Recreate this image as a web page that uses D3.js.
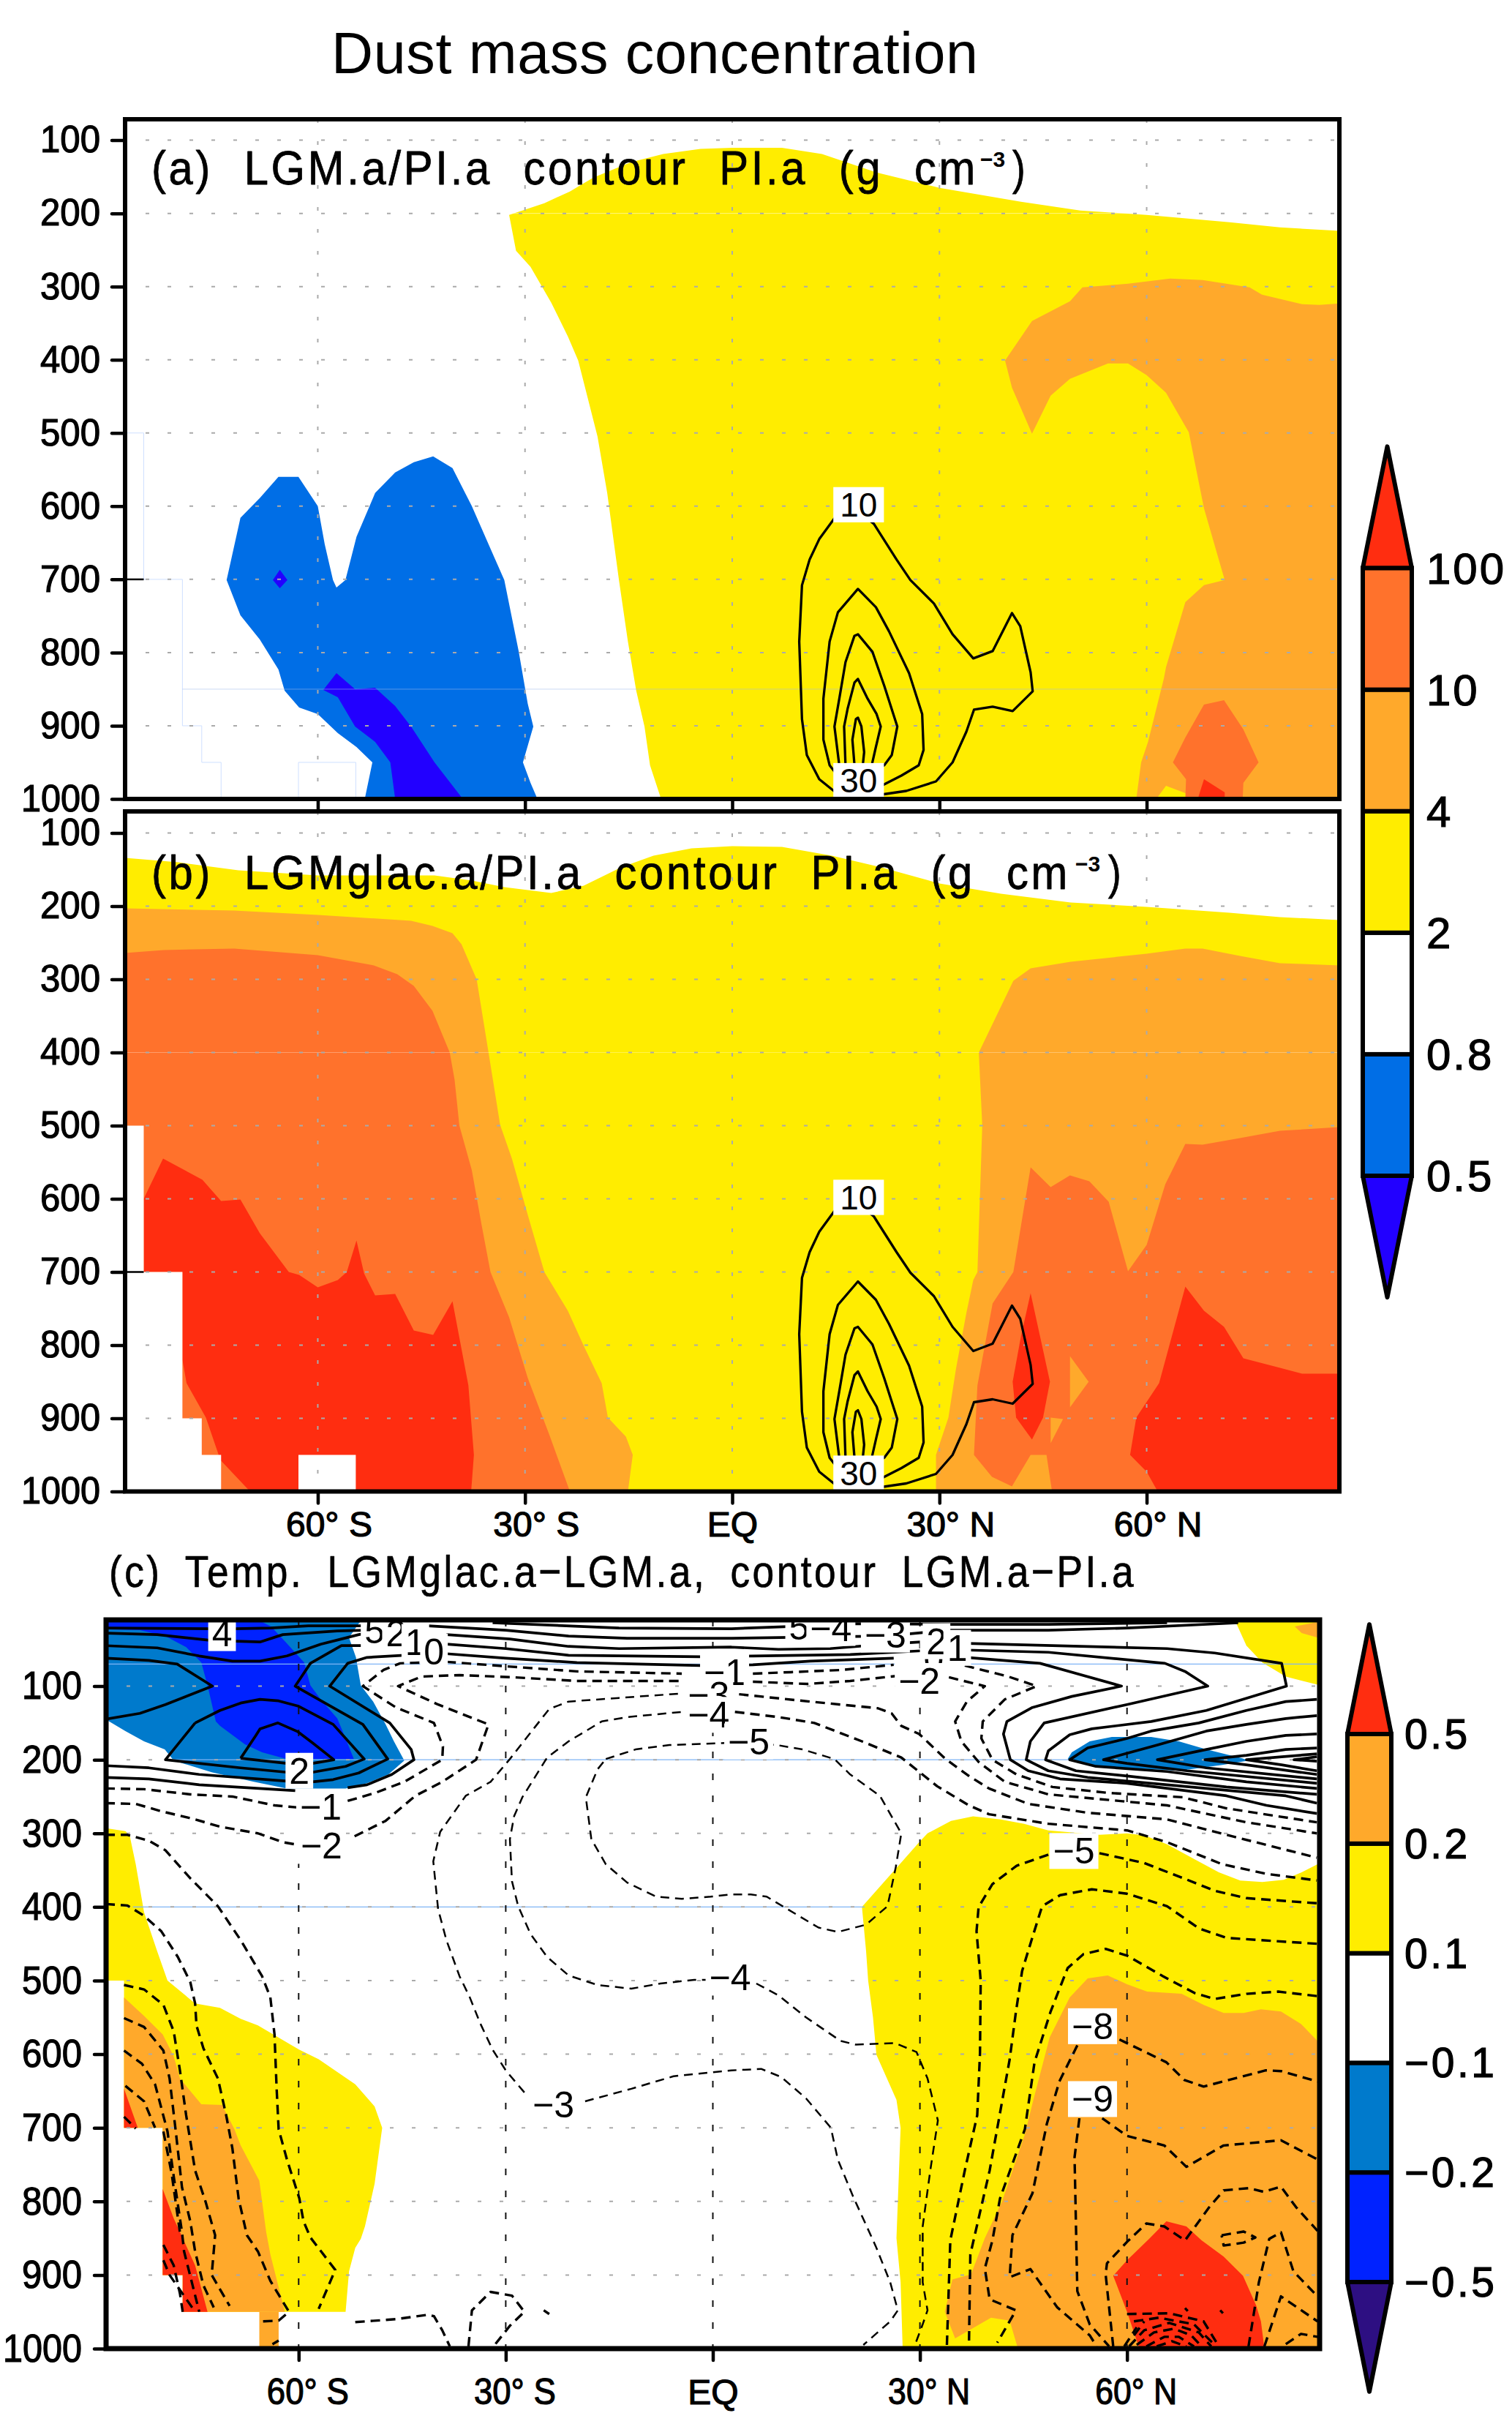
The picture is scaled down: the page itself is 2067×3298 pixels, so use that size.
<!DOCTYPE html>
<html><head><meta charset="utf-8"><title>Dust mass concentration</title>
<script src="https://cdnjs.cloudflare.com/ajax/libs/d3/7.8.5/d3.min.js"></script>
<style>html,body{margin:0;padding:0;background:#fff}svg{display:block}</style></head><body>
<script>
// ---------- shared axis data ----------
const pressureTicks=[100,200,300,400,500,600,700,800,900,1000];
const latTicks=[-60,-30,0,30,60];
const latLabels=["60° S","30° S","EQ","30° N","60° N"];
const gridPressures=[100,200,300,400,500,600,700,800,900];
// ---------- panel (a) fills: [lat, hPa] ----------
const aYellow=[[-32.3,202],[-27.2,186],[-23.5,170],[-20.1,151],[-14.7,130],[-10,119],[-4.6,112],[0,110.5],[7.2,110.5],[13,119],[20.9,144],[30,165],[41.8,184],[50.4,196],[60,202],[72,212],[79.3,219],[88,224],[88,1000],[-10.3,1000],[-11.9,954],[-12.7,901],[-13.9,852],[-15.1,785],[-16.4,701],[-18.1,582],[-19.5,505],[-22.3,401],[-23.8,368],[-26.2,322],[-29.2,273],[-31.3,251]];
const aOrange=[[39.5,401],[43.4,347],[48.9,320],[50.7,301],[57.3,296],[63.4,289],[68.1,291],[74.9,301],[76.7,311],[82.5,324],[85,325],[88,323],[88,1000],[58.5,1000],[59.2,950],[60.2,922],[62.5,835],[62.8,820],[65.6,731],[68.3,708],[71.3,701],[68.3,603],[66.1,499],[62.8,445],[60,421],[57.3,405],[54.4,405],[48.9,426],[46.1,449],[43.4,501],[40.5,438]];
const aYellowBit=[[61.4,1000],[62.8,982],[65.6,992],[67.4,1000]];
const aDarkOrange=[[63.8,950],[65.6,916],[68.3,871],[71.2,865],[74,905],[76.2,950],[74,978],[73.9,1000],[65.6,1000],[65.7,973]];
const aRed=[[67.4,1000],[68.3,973],[71.3,991],[71.3,1000]];
const aBlue=[[-65.7,560],[-62.8,560],[-60,600],[-59,652],[-57.8,701],[-57.3,711],[-56,701],[-54.4,642],[-51.7,582],[-48.8,554],[-46.1,540],[-43.3,532],[-40.5,548],[-37.7,600],[-33,701],[-30.9,799],[-29.6,870],[-28.8,901],[-30.3,950],[-29.2,978],[-28.2,1000],[-53.2,1000],[-52.1,950],[-54.4,929],[-57.1,910],[-60,884],[-62.7,875],[-64.8,852],[-65.7,823],[-68.4,782],[-71.2,749],[-73.2,701],[-71.2,616],[-68.4,589]];
const aDeepDot=[[-65.5,687],[-64.4,701],[-65.5,712],[-66.5,701]];
const aDeep=[[-59.2,851],[-57.3,828],[-54.6,850],[-51.7,848],[-48.8,873],[-46.5,901],[-43.1,950],[-39,1000],[-48.8,1000],[-49.5,950],[-51.7,922],[-54.6,901],[-57.1,861]];
const maskSteps=[[-88,500],[-85.2,500],[-85.2,700],[-79.6,700],[-79.6,900],[-76.8,900],[-76.8,950],[-74,950],[-74,1000],[-88,1000]];
const maskBox=[[-62.8,1000],[-62.8,950],[-54.5,950],[-54.5,1000]];
// ---------- panel (b) fills ----------
const bYellow=[[-88,134],[-80.2,140],[-71.5,151],[-60,158],[-43.1,158],[-37.7,165],[-33,174],[-26.2,182],[-21.5,172],[-16.1,147],[-11.4,131],[-5.9,121],[0,118],[7.2,119],[14.4,131],[21.6,147],[30,169],[38.9,183],[49,195],[60,201],[72,209],[79.3,215],[88,219],[88,1000],[-88,1000]];
const bOrangeL=[[-88,203],[-72.1,206],[-60,212],[-46.5,220],[-43.4,227],[-40.5,237],[-39.2,252],[-37,300],[-35.3,399],[-33.6,499],[-31.9,545],[-29.6,622],[-27.2,700],[-23.8,753],[-21.5,801],[-18.9,852],[-18,899],[-15.4,925],[-14.4,950],[-15.1,1000],[-88,1000]];
const bDarkL=[[-88,264],[-82.3,260],[-72.1,258],[-60,267],[-51.9,281],[-48.5,293],[-46.1,309],[-43.4,343],[-40.9,400],[-40.2,437],[-39.5,500],[-37.7,561],[-36.3,635],[-35,700],[-32.3,762],[-29.6,845],[-26.5,922],[-23.5,1000],[-88,1000]];
const bRedL=[[-85.2,600],[-82.4,545],[-76.7,574],[-74,603],[-71.2,601],[-68.4,647],[-64.2,700],[-62.7,704],[-60,721],[-57.1,711],[-55.8,700],[-54.4,657],[-53.3,702],[-51.7,732],[-48.8,730],[-46.1,780],[-43.3,786],[-40.5,740],[-38.2,855],[-37.4,950],[-37.8,1000],[-69.8,1000],[-71.1,987],[-74.1,957],[-76.2,899],[-79,852],[-79.6,820],[-79.6,700],[-85.2,700]];
const bOrangeR=[[35.7,400],[40.7,302],[43.2,285],[49,276],[60,265],[65.6,258],[68.1,258],[73.5,268],[79.3,278],[82.5,279],[88,281],[88,1000],[29.5,1000],[29.5,950],[31.3,899],[32.4,832],[33.9,756],[34.9,711],[35.5,700],[36.2,500]];
const bDarkR=[[40.7,700],[43.2,557],[46.1,584],[48.9,568],[51.7,576],[54.5,604],[57.3,699],[60,663],[62.7,580],[65.6,525],[68.1,526],[73.5,517],[79.3,507],[88,502],[88,1000],[46.3,1000],[45.5,950],[43.2,950],[40.5,993],[37.6,980],[35,950],[35.5,855],[37.7,743]];
const bOrangeDiamond=[[48.9,815],[51.6,850],[48.9,885]];
const bOrangeTri=[[46.1,899],[47.9,901],[46.1,934]];
const bRedSmall=[[43.2,729],[46,850],[45,899],[43.4,929],[41.1,899],[40.6,850],[41.8,788]];
const bRedBig=[[65.6,720],[68.3,753],[71.2,775],[74,818],[79.3,831],[82.5,839],[88,839],[88,1000],[61.6,1000],[60,973],[57.6,950],[58.5,899],[61.8,852]];
// ---------- contours shared by (a) and (b) ----------
const dust10=[[15,614],[12.6,645],[11.2,673],[10.1,708],[9.7,785],[10.1,891],[10.8,940],[12.6,973],[15.1,992],[21.6,994],[25.2,989],[29.5,976],[31.9,950],[33.9,908],[35,878],[37.7,874],[40.6,880],[43.5,853],[43.2,827],[41.7,764],[40.5,746],[37.7,798],[34.9,808],[31.9,775],[29.2,733],[25.8,701],[23.8,673],[20.5,624],[17.3,600],[15,614]];
const dust15=[[21.6,982],[24.5,968],[27,954],[27.7,933],[27.5,884],[25.6,828],[22.7,771],[20.8,738],[18.2,713],[15.3,745],[14.1,785],[13.2,863],[13.2,919],[14.1,954],[15.5,971]];
const dust20=[[20.2,961],[22,954],[23.1,940],[23.9,901],[22,845],[20.3,799],[18.2,775],[17.7,777],[16.4,813],[15.5,863],[14.8,901],[15.5,954]];
const dust25=[[20.2,954],[20.8,929],[21.5,901],[20.9,884],[19.6,863],[18.2,836],[17.7,841],[16.7,877],[16.2,901],[16.4,954]];
const dust30=[[18.9,954],[19.1,936],[18.7,901],[18.2,889],[17.9,891],[17.4,919],[17.7,954]];
const dustContours=[dust10,dust15,dust20,dust25,dust30];
const dustLabels=[["10",18.3,598],["30",18.3,975]];
// ---------- panel (c) fills ----------
const cBlueS=[[-88,10],[-88,145],[-85.1,161],[-82.4,175],[-79.4,186],[-78.1,201],[-72.6,217],[-66.5,230],[-61.7,239],[-53.2,239],[-50.1,232],[-47,220],[-44.7,201],[-46.2,175],[-47.4,152],[-49.2,121],[-51,99],[-51.7,61],[-52.7,34],[-51.3,15],[-50.8,10]];
const cDeepS=[[-88,10],[-88,23],[-83,24],[-79.3,32],[-76.3,47],[-74.1,68],[-73.2,99],[-72,148],[-71.4,154],[-67.8,179],[-65.3,190],[-61.7,199],[-52,199],[-53.2,171],[-54.4,144],[-56.8,118],[-58.3,99],[-59.2,68],[-61.7,42],[-64,19],[-65.9,10]];
const cBlueN=[[51.4,199],[52,190],[54.6,175],[57.8,169],[63.5,169],[67.5,175],[71.5,186],[76.7,198],[77.6,201],[73.8,207],[67.5,215],[60,211],[54.3,207]];
const cYellowCorner=[[75.6,10],[77.3,45],[79.6,68],[83,87],[88,99],[88,10]];
const cOrangeCorner=[[84.3,19],[88,12],[88,35],[85.3,28]];
const cYellowS=[[-88,293],[-85.1,297],[-84.5,302],[-83.6,342],[-82.4,407],[-80.5,460],[-79,500],[-75,531],[-71.4,537],[-68.4,552],[-65.9,561],[-59.9,594],[-57.1,607],[-51.8,641],[-49,671],[-47.9,700],[-49,776],[-50.4,834],[-51,851],[-51.8,863],[-52.7,895],[-53.2,950],[-76.8,950],[-76.8,900],[-79.7,900],[-79.7,700],[-85.3,700],[-85.3,500],[-88,500]];
const cOrangeS=[[-85.3,523],[-82.4,548],[-79.7,573],[-78.1,603],[-77.2,633],[-74.1,668],[-71.1,669],[-69.3,702],[-68.4,724],[-65.7,772],[-64.7,842],[-64.1,872],[-62,950],[-76.8,950],[-76.8,900],[-79.7,900],[-79.7,700],[-85.3,700]];
const cOrangeBox=[[-65.7,950],[-62.9,950],[-62.9,1000],[-65.7,1000]];
const cRedS1=[[-85.3,647],[-83.3,700],[-85.3,700]];
const cRedS2=[[-79.7,783],[-78.1,823],[-75,887],[-73.2,950],[-76.8,950],[-76.8,900],[-79.7,900]];
const cYellowN=[[21.6,400],[29.9,312],[31.1,300],[34.5,283],[37.7,277],[41.7,281],[45.1,287],[48.6,296],[56,302],[60,300],[62.6,303],[65.8,315],[73.3,353],[76.4,364],[79.6,366],[82.7,363],[85.3,353],[88,340],[88,1000],[27.5,1000],[27.2,910],[26.6,850],[27.2,700],[26.6,662],[23.7,601],[23.2,550],[22.5,500],[22.2,460]];
const cOrangeN=[[34.7,906],[37.4,899],[39.4,850],[41.9,800],[45.2,709],[46.3,667],[48.8,577],[51.7,523],[54.3,497],[57.2,493],[60,505],[62.9,515],[67.9,518],[71.1,533],[74,544],[76.9,544],[79.4,539],[82.3,542],[85.2,559],[88,586],[88,1000],[44.2,1000],[43,962],[40.3,958],[35.1,986],[33.6,950]];
const cRedN=[[65.7,827],[68.6,834],[70.8,853],[74,875],[76.8,901],[78.7,941],[79.4,963],[79.9,1000],[61.8,1000],[60,950],[58,901],[60,880],[63.2,851]];
// ---------- panel (c) solid contours ----------
const solS=[
[[-88,21],[-72.6,22],[-69.3,22],[-64.1,21],[-58.6,18],[-50.4,18]],
[[-88,28],[-80.5,30],[-72.6,38],[-65.6,40],[-62.3,30],[-54.4,25],[-50.4,24]],
[[-88,45],[-80.5,48],[-74.4,59],[-69.6,66],[-65.6,66],[-61.7,59],[-56.8,43],[-53.8,36],[-51.3,30],[-47.4,24]],
[[-88,62],[-81.7,65],[-77.6,70],[-72.5,100],[-79.3,125],[-83,137],[-88,145]],
[[-44.7,58],[-50.1,61],[-52.9,69],[-55.5,100],[-46.8,150],[-43.7,186],[-43.3,200],[-46.5,220],[-50.1,234],[-52.9,238]],
[[-47.4,45],[-53.8,45],[-58.3,69],[-60.5,100],[-50.7,152],[-47.1,199],[-51.3,218],[-55,227],[-58,230],[-61.7,229],[-74.4,220],[-81.7,211],[-88,208]],
[[-75,150],[-71.4,133],[-68.4,123],[-65.6,118],[-62.9,120],[-60.1,127],[-55,152],[-50.5,199],[-53.2,209],[-58,217],[-61.7,217],[-68.4,211],[-79.3,200],[-75,150]],
[[-68.4,198],[-66.2,167],[-65.6,158],[-63,150],[-60.1,162],[-58,177],[-54.9,200],[-58,205],[-61.7,205],[-68.4,198]],
[[-88,224],[-81.7,226],[-74.4,234],[-60.5,242]]];
const solTop=[
[[-31.9,14],[-13.6,21],[2.7,22],[11,19],[19.9,15],[34.2,16],[48.6,16],[65.8,14]],
[[-41.3,18],[-30,24],[-20.9,32],[-12.4,35],[2.7,35],[16.7,33],[25,32],[34,24],[48.6,24],[60,21],[76.1,14]],
[[-38.6,30],[-29.4,36],[-20.9,46],[-13.6,49],[2.7,47],[9.5,50],[17,49],[25,43],[30.2,40]],
[[-38.6,43],[-30,49],[-20.9,58],[-1.8,60],[5.8,59],[19.9,57],[30.2,52]],
[[-38.6,56],[-30,62],[-19.7,68],[-1.8,72],[5.8,71],[14.1,66],[26.2,62]]];
const solN=[
[[36.8,61],[47.4,69],[59.2,100],[52,114],[46.3,129],[42.6,148],[42.1,165],[43.1,200],[45.7,215],[50.3,226],[60,232],[74.4,249],[80.2,262],[87.5,273]],
[[36.8,51],[48.6,54],[65.5,69],[68.4,80],[71.7,100],[60,125],[48,150],[46,175],[45.4,200],[48.6,215],[54.3,224],[65.8,234],[83,249],[87.5,259]],
[[36.8,42],[65.8,49],[72.7,55],[82.4,69],[83.1,100],[71.5,133],[63.5,148],[54.9,158],[51.7,166],[48.6,188],[48.2,200],[52.6,215],[60,222],[74.4,237],[87.5,247]],
[[87.5,118],[83,121],[77.3,133],[70.4,150],[63.5,161],[60,171],[54.3,184],[51.7,200],[55.5,209],[65.8,216],[77.3,230],[87.5,239]],
[[87.5,140],[83,144],[77.3,152],[71.5,161],[64.4,180],[56.6,200],[60,205],[68.7,215],[87.5,232]],
[[87.5,165],[83,167],[77.3,175],[71.5,186],[64.4,200],[71.5,211],[87.5,226]],
[[87.5,184],[83,186],[77.3,194],[71.3,200],[77.3,207],[87.5,220]],
[[87.5,192],[82.4,196],[77.3,200],[82.4,207],[87.5,215]],
[[87.5,196],[84.2,200],[87.5,202]]];
// ---------- panel (c) dashed contours ----------
const dashThick=[
[[-88,239],[-82.4,240],[-75.7,247],[-69.6,250],[-63.5,262],[-59.9,265]],
[[-52.9,256],[-48.9,245],[-44.7,230],[-39.2,200],[-39.1,182],[-40.4,150],[-45.9,129],[-50.7,100],[-47.7,78],[-45.3,69],[-42.2,68]],
[[-38.6,67],[-30,73],[-19.7,80],[-4.5,83]],
[[5.8,83],[11.3,81],[18.7,78],[26.2,71]],
[[36.5,72],[42.8,87],[46.9,100],[42.3,118],[39.1,148],[38.9,171],[40.5,200],[44,220],[49.2,237],[57.2,245],[68.1,251],[74.4,266],[87.5,285]],
[[-88,259],[-83.6,260],[-79.9,270],[-75,281],[-71.4,291],[-65.9,300],[-62.3,312],[-60.5,315]],
[[-51.9,304],[-47.4,283],[-43.1,249],[-39.2,230],[-34.3,200],[-32.5,152],[-39.8,125],[-45.6,100],[-42.2,87],[-36.7,85],[-28.8,88],[-19.7,93],[-4.5,93]],
[[5.8,94],[13.6,97],[19.9,93],[26.8,86]],
[[34.2,88],[39.4,100],[36.8,121],[35.1,148],[36,175],[38.5,203],[42.3,230],[48.6,247],[65.8,262],[77.3,285],[87.5,300]]];
const dashS=[
[[-88,302],[-84.8,302],[-81.7,310],[-79.3,323],[-75.7,361],[-71.7,399],[-68.4,445],[-65.3,494],[-64.1,523],[-63.5,573],[-63.2,645],[-62.9,702],[-61.7,743],[-59.9,796],[-59.3,827],[-58.3,849],[-54.7,893],[-57.1,946]],
[[-88,396],[-84.8,398],[-82.4,412],[-79.9,433],[-77.5,468],[-75.7,502],[-75,531],[-74.8,561],[-73.8,592],[-71.7,633],[-70.5,683],[-69.6,728],[-68.7,796],[-67.5,846],[-65.9,868],[-64.1,908],[-61.4,950],[-62.9,962],[-65.3,963]],
[[-85.3,506],[-82.4,512],[-79.6,533],[-78.1,569],[-77.2,622],[-76.3,683],[-75,758],[-73.5,800],[-72.1,846],[-72.6,900],[-70,942]],
[[-85.3,551],[-82.4,563],[-79.6,595],[-78.7,633],[-77.8,705],[-76.9,781],[-75.7,827],[-75,868],[-73.8,914],[-72.3,944]],
[[-85.3,595],[-82.7,613],[-80.8,641],[-79,705],[-78.1,766],[-76.9,842],[-76.6,868],[-74.4,950]],
[[-85.1,643],[-82.4,664],[-80.8,700]],
[[-79.6,705],[-78.4,762],[-77.2,842]],
[[-85.3,685],[-83.6,701]],
[[-79.6,859],[-78.1,887],[-77.2,925],[-76.8,950]],
[[-79.6,880],[-78.7,900],[-75,950]],
[[-51.8,964],[-45.9,960],[-41.3,954],[-40.4,956],[-39.2,975],[-38.1,997]],
[[-35.4,997],[-34.9,948],[-32.2,923],[-29.1,928],[-27.3,950],[-29.4,969],[-31.6,995]],
[[-24.5,948],[-23.7,953]],
[[-63.8,994],[-62.9,989]]];
const dashCentre=[
[[-27.3,652],[-30,622],[-31.9,594],[-33.7,558],[-35.2,523],[-36.7,494],[-38.6,445],[-39.8,403],[-40.5,338],[-39.5,298],[-35.8,249],[-32.2,230],[-29.4,199],[-25.8,156],[-23.7,131],[-20.9,121],[-13.6,116],[-4.5,110]],
[[-0.3,499],[-2.7,499],[-7.6,504],[-11.8,511],[-16.7,506],[-20.9,493],[-24,468],[-26.4,437],[-28.2,399],[-29.1,365],[-29.4,308],[-28.8,277],[-27.6,251],[-24,197],[-20.9,175],[-16.1,148],[-12.4,142],[-4.5,135]],
[[-15.5,199],[-11.2,186],[-6.3,180],[2.7,177],[9.3,180],[13,186],[17.6,199],[19.9,220],[24.2,249],[27.3,300],[26.5,346],[25.3,399],[22.2,424],[18.1,434],[15.3,428],[7.8,386],[5.5,383],[2.7,383],[-0.3,386],[-4.5,389],[-8.2,386],[-12.4,367],[-15.5,342],[-17.6,308],[-18.4,251],[-16.7,213],[-15.5,199]],
[[-18.5,664],[-11.8,647],[-5.7,630],[2.7,622],[7,620],[9.9,631],[13.5,660],[17.1,700],[18.1,743],[20.3,793],[23.6,861],[25.7,910],[26.8,948],[25.7,963],[21.8,995]],
[[6.3,504],[9.5,520],[13.5,550],[18.5,582],[20.7,587],[26.4,585],[29.5,597],[31.1,633],[32.6,690],[31.5,758],[30.4,834],[30.4,910],[31.1,948],[30.4,967],[29.2,997]]];
const dashN=[
[[3.8,111],[14.1,121],[23.9,130],[25.9,137],[27.3,154],[29.9,165],[33.7,199],[37.1,222],[40,239],[45.7,260],[54.3,272],[65.8,281],[74.4,302],[87.5,333]],
[[3.2,135],[9.5,142],[14.7,150],[21.6,175],[27.3,197],[32.5,236],[37.1,262],[40,274],[48.6,287],[60,296],[65.8,312],[73.8,342],[80.2,355],[87.5,364]],
[[48.6,329],[44,344],[40.5,369],[38.5,400],[38.2,433],[38.8,500],[38.7,599],[38.3,683],[36.5,758],[34.4,853],[33.9,997]],
[[56,327],[62.4,340],[68.7,363],[72.7,378],[77.3,388],[87.5,395]],
[[87.5,450],[74.4,442],[70.4,429],[65.8,399],[60,382],[54.9,376],[50.3,384],[47.7,399],[46.3,441],[44.8,487],[43.9,543],[43,607],[40.1,758],[37.3,872],[37.1,997]],
[[87.5,521],[81.9,515],[77.3,518],[72.7,525],[69.8,517],[65.2,494],[60,466],[56.9,457],[53.7,464],[51.4,483],[50.3,509],[48.9,543],[46.6,611],[45.2,702],[41.6,796],[40.5,853],[39.4,891],[40.1,933],[43.9,948],[41.2,992]],
[[52.8,588],[50.2,637],[48.4,694],[46.3,789],[43.4,846],[43,903],[46,892],[49.9,944],[54.6,982],[55.6,997]],
[[58.9,580],[65.7,611],[68.3,635],[71.1,644],[80.1,622],[82.3,623],[87.6,637]],
[[53.1,687],[52.4,740],[52.8,922],[54.6,967],[57.4,997]],
[[56.4,687],[60,711],[65.4,724],[68.6,753],[74,724],[82.3,717],[87.6,743]],
[[58,997],[56.9,899],[57.1,884],[60,855],[62.8,830],[65.4,834],[68.4,853],[71.9,808],[74,785],[77.6,782],[79.8,787],[82.3,780],[84.5,808],[87.6,840]],
[[77.6,997],[79.1,910],[80.6,851],[82.3,842],[84.1,895],[87.6,929]],
[[79.9,997],[82.3,929],[87.6,963]],
[[83,994],[85.2,980],[87.6,984]],
[[73.7,846],[76.9,841],[78.6,849],[76.9,856],[74,860],[73.7,846]],
[[60,953],[66.1,952],[71.1,963],[73.3,997]],
[[61,963],[64.6,958],[69.7,967],[72.9,997]],
[[60.3,997],[62.5,975],[66.1,965],[70.4,978],[72.2,997]],
[[61.4,995],[63.9,978],[66.8,973],[69.3,982],[70.8,997]],
[[62.8,997],[65.4,984],[67.5,984],[69.7,997]],
[[64.3,997],[66.5,990],[68.6,997]],
[[61,982],[62.5,963]],
[[59.6,997],[61.4,971]],
[[73.5,948],[73.9,952]],
[[68.4,945],[68.8,949]]];
const cLabels=[["4",-71.1,28],["5",-49,24],["2",-45.9,28],["1",-43.1,40],["0",-40.4,53],["2",-59.9,215],["−1",-56.8,264],["−2",-56.7,317],
["5",12.5,19],["−4",17.1,21],["−3",25,30],["0",32,62],["2",32.4,39],["1",35.4,48],["−1",1.7,81],["−3",-0.6,112],["−4",-0.6,139],["−2",29.9,93],["−5",5.2,175],
["−3",-23.1,669],["−4",2.5,496],["−5",52.3,324],["−8",55,562],["−9",55,661]];
// ---------- colour bars ----------
const cb1Labels=["0.5","0.8","2","4","10","100"];
const cb1Colors=["#2200FF","#006EE6","#FFFFFF","#FFED00","#FFA92B","#FF722C","#FF2D10"];
const cb2Labels=["−0.5","−0.2","−0.1","0.1","0.2","0.5"];
const cb2Colors=["#2D0F82","#0022FF","#007ACC","#FFFFFF","#FFED00","#FFA92B","#FF2D10"];
const YEL="#FFED00",ORA="#FFA92B",DOR="#FF722C",RED="#FF2D10",BLU="#006EE6",DEP="#2200FF",BL2="#007ACC",DP2="#0022FF";

const SANS="'Liberation Sans'";
const svg=d3.select("body").append("svg").attr("width",2067).attr("height",3298).attr("viewBox","0 0 2067 3298").style("font-family",SANS);
svg.append("text").attr("x",453).attr("y",100).attr("font-size",79).attr("textLength",884).attr("lengthAdjust","spacing").text("Dust mass concentration");

function makePanel(id,xr,yr,yTop){
  const x=d3.scaleLinear().domain([-87.9,87.9]).range(xr);
  const y=d3.scaleLinear().domain([yTop,1000]).range(yr);
  const line=d3.line().x(d=>x(d[0])).y(d=>y(d[1]));
  svg.append("clipPath").attr("id",id).append("rect").attr("x",xr[0]).attr("y",yr[0]).attr("width",xr[1]-xr[0]).attr("height",yr[1]-yr[0]);
  const g=svg.append("g").attr("clip-path",`url(#${id})`);
  return {x,y,line,g,xr,yr,
    fill:(pts,c)=>g.append("path").attr("d",line(pts)+"Z").attr("fill",c),
    stroke:(pts,c,w,dash)=>{const p=g.append("path").attr("d",line(pts)).attr("fill","none").attr("stroke",c).attr("stroke-width",w).attr("stroke-linejoin","round");if(dash)p.attr("stroke-dasharray",dash);return p;}
  };
}
function gridLines(P,hc,vc,vd,vw){
  gridPressures.forEach(p=>P.g.append("line").attr("x1",P.xr[0]).attr("x2",P.xr[1]).attr("y1",P.y(p)).attr("y2",P.y(p)).attr("stroke",hc).attr("stroke-width",2).attr("stroke-dasharray","5 25").attr("stroke-dashoffset",2));
  latTicks.forEach(l=>P.g.append("line").attr("x1",P.x(l)).attr("x2",P.x(l)).attr("y1",P.yr[0]).attr("y2",P.yr[1]).attr("stroke",vc).attr("stroke-width",vw).attr("stroke-dasharray",vd));
}
function contourLabel(P,t,lat,p,fs,padX,padY){
  const gg=P.g.append("g");
  const r=gg.append("rect").attr("fill","#fff");
  const tx=gg.append("text").attr("x",P.x(lat)).attr("y",P.y(p)+fs*0.35).attr("text-anchor","middle").attr("font-size",fs).text(t);
  const b=tx.node().getBBox();
  r.attr("x",b.x-padX).attr("y",P.y(p)-fs*0.35-padY).attr("width",b.width+2*padX).attr("height",fs*0.7+2*padY);
}
function frame(P,opt){
  const left=d3.axisLeft(P.y).tickValues(pressureTicks).tickSize(opt.tick).tickPadding(opt.pad).tickFormat(d3.format("d"));
  const bot=d3.axisBottom(P.x).tickValues(latTicks).tickSize(16).tickFormat((d,i)=>opt.labels?latLabels[i]:"");
  const al=svg.append("g").attr("transform",`translate(${P.xr[0]},0)`).call(left);
  const ab=svg.append("g").attr("transform",`translate(0,${P.yr[1]})`).call(bot);
  [al,ab].forEach(a=>{a.select(".domain").remove();a.selectAll("line").attr("stroke","#000").attr("stroke-width",4.5).attr("stroke-linecap","round");
    a.selectAll("text").attr("fill","#000").attr("font-family",SANS).attr("stroke","#000").attr("stroke-width",1.2);});
  al.selectAll("text").attr("font-size",opt.yfs).each(function(d){d3.select(this).attr("textLength",d>=1000?108:82).attr("lengthAdjust","spacingAndGlyphs");});
  ab.selectAll("text").attr("y",opt.base).attr("dy",0).attr("dx",d=>d===0?0:opt.dx).attr("font-size",d=>d===0?48:opt.xfs)
    .each(function(d){if(opt.xlen&&d!==0)d3.select(this).attr("textLength",opt.xlen).attr("lengthAdjust","spacingAndGlyphs");});
  svg.append("rect").attr("x",P.xr[0]).attr("y",P.yr[0]).attr("width",P.xr[1]-P.xr[0]).attr("height",P.yr[1]-P.yr[0]).attr("fill","none").attr("stroke","#000").attr("stroke-width",opt.fw);
}
function dustOverlay(P){
  dustContours.forEach(c=>P.stroke(c,"#000",3.3));
  dustLabels.forEach(l=>contourLabel(P,l[0],l[1],l[2],46,9,8));
}
function colorbar(labels,colors,xl,xr,y0,step,lx,fs,sw,ls){
  const iy=d3.scaleLinear().domain([0,labels.length-1]).range([y0,y0-step*(labels.length-1)]);
  const n=labels.length,xm=(xl+xr)/2;
  const g=svg.append("g");
  g.append("path").attr("d",`M${xl},${iy(0)}L${xm},${iy(-1)}L${xr},${iy(0)}Z`).attr("fill",colors[0]).attr("stroke","#000").attr("stroke-width",sw).attr("stroke-linejoin","round");
  g.append("path").attr("d",`M${xl},${iy(n-1)}L${xm},${iy(n)}L${xr},${iy(n-1)}Z`).attr("fill",colors[n]).attr("stroke","#000").attr("stroke-width",sw).attr("stroke-linejoin","round");
  g.selectAll("rect").data(d3.range(n-1)).join("rect").attr("x",xl).attr("width",xr-xl).attr("y",i=>iy(i+1)).attr("height",step).attr("fill",i=>colors[i+1]).attr("stroke","#000").attr("stroke-width",sw);
  g.selectAll("text").data(labels).join("text").attr("x",lx).attr("y",(d,i)=>iy(i)+fs*0.35).attr("font-size",fs).attr("letter-spacing",ls).attr("stroke","#000").attr("stroke-width",1.2).text(d=>d);
}
function fittedText(str,x1,x2,y,fs,sx,ls,sw){
  const t=svg.append("text").attr("transform",`translate(${x1},${y}) scale(${sx},1)`).attr("font-size",fs).attr("letter-spacing",ls).attr("stroke","#000").attr("stroke-width",sw).attr("stroke-linejoin","round").text(str);
  const nat=t.node().getComputedTextLength(),gaps=str.split(" ").length-1;
  t.attr("word-spacing",((x2-x1)/sx-nat)/gaps);
}
function panelTitle(x1,x2,y,main,supX,parenX){
  fittedText(main,x1,x2,y,65,0.92,4,0.8);
  svg.append("text").attr("x",supX).attr("y",y-24).attr("font-weight","bold").attr("font-size",30).text("−3");
  svg.append("text").attr("transform",`translate(${parenX},${y}) scale(0.82,1)`).attr("font-size",65).attr("stroke","#000").attr("stroke-width",0.8).text(")");
}
// ----- panel a -----
const A=makePanel("ca",[171,1831],[163,1092],71.4);
A.fill(aYellow,YEL);A.fill(aOrange,ORA);A.fill(aYellowBit,YEL);A.fill(aDarkOrange,DOR);A.fill(aRed,RED);A.fill(aBlue,BLU);A.fill(aDeepDot,DEP);A.fill(aDeep,DEP);
A.stroke(maskSteps.slice(0,-1),"#cfe0ff",1);A.stroke(maskBox,"#cfe0ff",1);
A.g.append("line").attr("x1",A.x(-79.6)).attr("x2",1831).attr("y1",A.y(850)).attr("y2",A.y(850)).attr("stroke","#9fb8e8").attr("stroke-opacity",.55).attr("stroke-width",1);
A.g.append("line").attr("x1",A.x(-32)).attr("x2",A.x(60)).attr("y1",A.y(200)).attr("y2",A.y(200)).attr("stroke","#fff").attr("stroke-opacity",.5).attr("stroke-width",1);
gridLines(A,"#aaaaaa","#aaaaaa","5 25",2);
dustOverlay(A);
A.g.append("line").attr("x1",171).attr("x2",A.x(-85.2)).attr("y1",A.y(700)).attr("y2",A.y(700)).attr("stroke","#000").attr("stroke-width",2.5);
frame(A,{tick:18,pad:16,yfs:51,labels:false,base:0,xfs:48,dx:0,xlen:0,fw:6});
panelTitle(207,1337,252,"(a) LGM.a/PI.a contour PI.a (g cm",1340,1384);
// ----- panel b -----
const B=makePanel("cb",[171,1831],[1109,2038.5],70.5);
B.fill(bYellow,YEL);B.fill(bOrangeL,ORA);B.fill(bOrangeR,ORA);B.fill(bDarkL,DOR);B.fill(bDarkR,DOR);B.fill(bOrangeDiamond,ORA);B.fill(bOrangeTri,ORA);B.fill(bRedL,RED);B.fill(bRedSmall,RED);B.fill(bRedBig,RED);
B.fill(maskSteps,"#fff");B.fill(maskBox,"#fff");
B.g.append("line").attr("x1",171).attr("x2",1831).attr("y1",B.y(400)).attr("y2",B.y(400)).attr("stroke","#fff").attr("stroke-opacity",.3).attr("stroke-width",1);
gridLines(B,"#aaaaaa","#aaaaaa","5 25",2);
dustOverlay(B);
B.g.append("line").attr("x1",171).attr("x2",B.x(-85.2)).attr("y1",B.y(700)).attr("y2",B.y(700)).attr("stroke","#000").attr("stroke-width",2.5);
frame(B,{tick:18,pad:16,yfs:51,labels:true,base:61.5,xfs:48,dx:15,xlen:0,fw:6});
panelTitle(207,1463,1215,"(b) LGMglac.a/PI.a contour PI.a (g cm",1470,1515);
// ----- panel c -----
const C=makePanel("cc",[145,1804],[2214,3210],10);
C.fill(cYellowCorner,YEL);C.fill(cOrangeCorner,ORA);C.fill(cBlueS,BL2);C.fill(cDeepS,DP2);C.fill(cBlueN,BL2);
C.fill(cYellowS,YEL);C.fill(cOrangeS,ORA);C.fill(cOrangeBox,ORA);C.fill(cRedS1,RED);C.fill(cRedS2,RED);
C.fill(cYellowN,YEL);C.fill(cOrangeN,ORA);C.fill(cRedN,RED);
[[70,-88,88],[200,-79,52],[400,-84,22]].forEach(s=>C.g.append("line").attr("x1",C.x(s[1])).attr("x2",C.x(s[2])).attr("y1",C.y(s[0])).attr("y2",C.y(s[0])).attr("stroke","#7fb4f5").attr("stroke-width",1.3));
gridLines(C,"#aaaaaa","#111111","9 21",2);
solS.forEach(c=>C.stroke(c,"#000",3.7));
solTop.forEach(c=>C.stroke(c,"#000",3.7));
solN.forEach(c=>C.stroke(c,"#000",3.7));
dashThick.forEach(c=>C.stroke(c,"#000",3.4,"13 8"));
dashS.forEach(c=>C.stroke(c,"#000",3.4,"13 8"));
dashCentre.forEach(c=>C.stroke(c,"#000",2.5,"12 8"));
dashN.forEach(c=>C.stroke(c,"#000",3.4,"13 8"));
cLabels.forEach(l=>contourLabel(C,l[0],l[1],l[2],50,5,7));
frame(C,{tick:16,pad:17,yfs:54,labels:true,base:76,xfs:50,dx:12,xlen:112,fw:7});
fittedText("(c) Temp. LGMglac.a−LGM.a, contour LGM.a−PI.a",149,1553,2169,62,0.86,4,0.7);
// ----- colour bars -----
colorbar(cb1Labels,cb1Colors,1863,1930,1607,166.1,1950,60,6,3);
colorbar(cb2Labels,cb2Colors,1842,1902,3119,149.8,1920,57,6,3.5);
</script></body></html>
